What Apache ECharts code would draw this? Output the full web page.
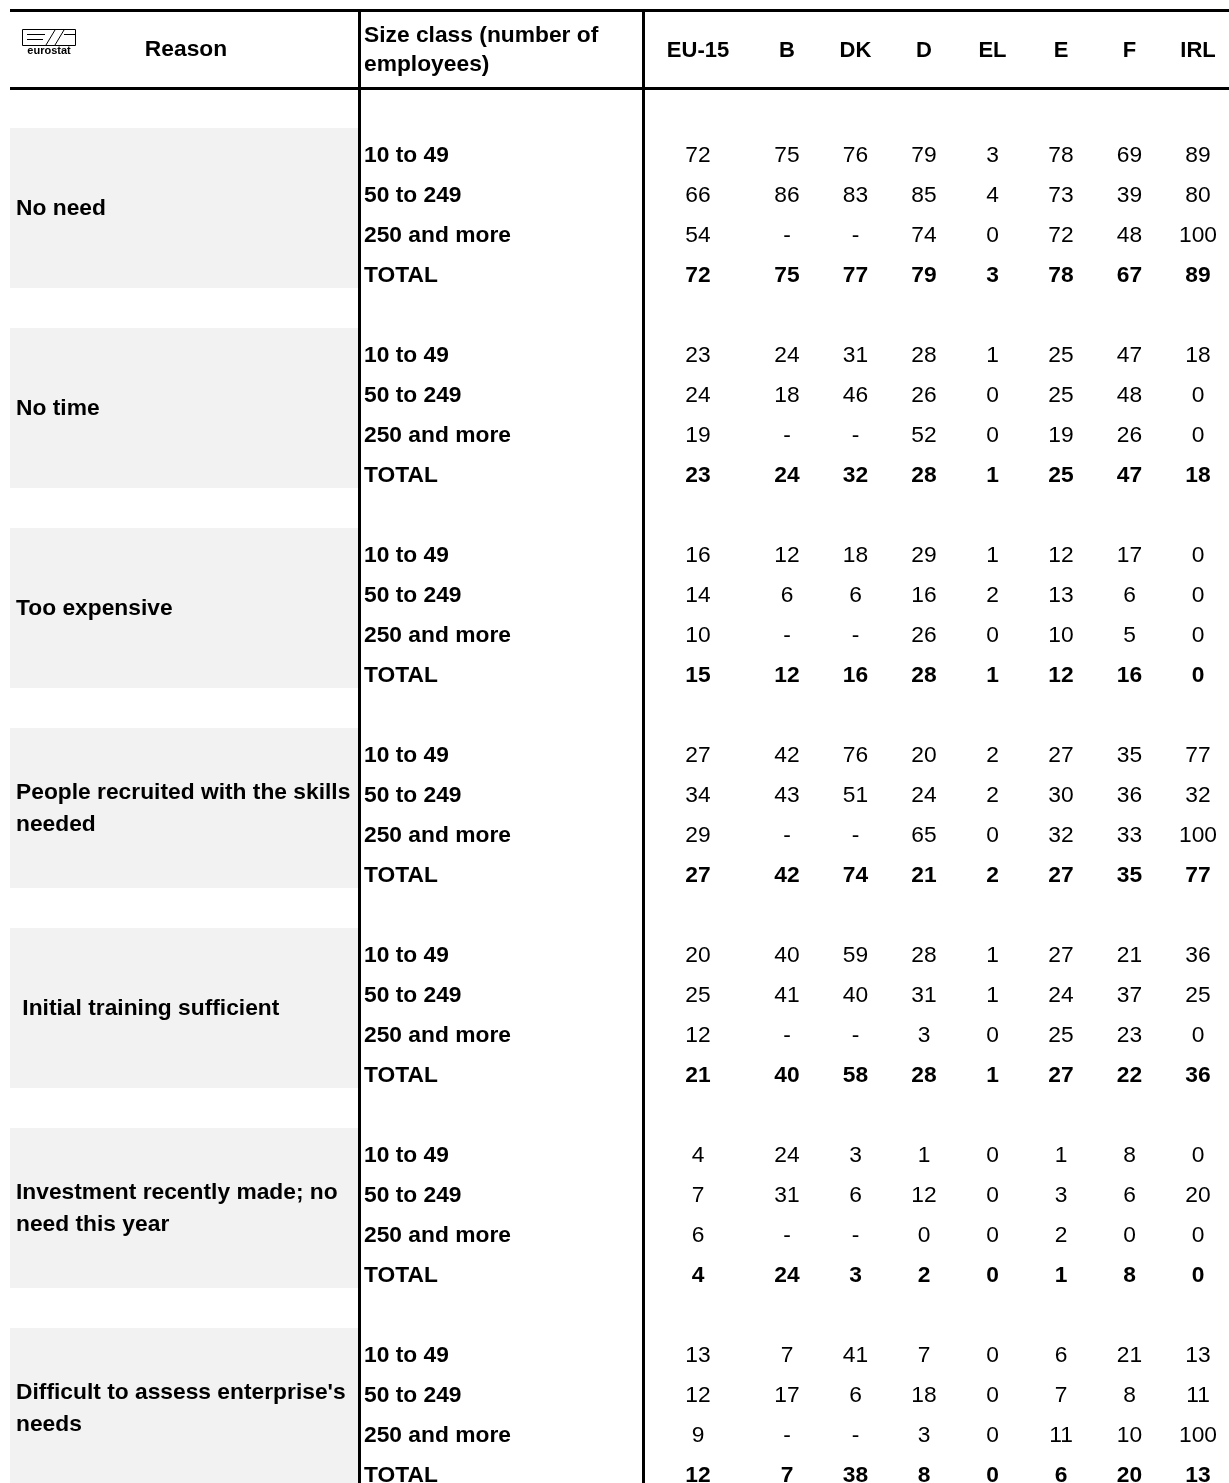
<!DOCTYPE html>
<html>
<head>
<meta charset="utf-8">
<script src="https://cdn.jsdelivr.net/npm/echarts@6/dist/echarts.min.js"></script>
<style>
html,body{margin:0;padding:0;background:#fff;}
#chart{width:1229px;height:1483px;}
</style>
</head>
<body>
<div id="chart"></div>
<script>
// ---------- DATA ----------
const countries = ['EU-15', 'B', 'DK', 'D', 'EL', 'E', 'F', 'IRL'];
const sizeClasses = ['10 to 49', '50 to 249', '250 and more', 'TOTAL'];
const reasons = [
  'No need',
  'No time',
  'Too expensive',
  'People recruited with the skills\nneeded',
  ' Initial training sufficient',
  'Investment recently made; no\nneed this year',
  "Difficult to assess enterprise's\nneeds"
];
// rows: 10 to 49, 50 to 249, 250 and more, TOTAL ; columns follow `countries`; null = '-'
const noNeed = [
  [72, 75, 76, 79, 3, 78, 69, 89],
  [66, 86, 83, 85, 4, 73, 39, 80],
  [54, null, null, 74, 0, 72, 48, 100],
  [72, 75, 77, 79, 3, 78, 67, 89]
];
const noTime = [
  [23, 24, 31, 28, 1, 25, 47, 18],
  [24, 18, 46, 26, 0, 25, 48, 0],
  [19, null, null, 52, 0, 19, 26, 0],
  [23, 24, 32, 28, 1, 25, 47, 18]
];
const tooExpensive = [
  [16, 12, 18, 29, 1, 12, 17, 0],
  [14, 6, 6, 16, 2, 13, 6, 0],
  [10, null, null, 26, 0, 10, 5, 0],
  [15, 12, 16, 28, 1, 12, 16, 0]
];
const peopleRecruited = [
  [27, 42, 76, 20, 2, 27, 35, 77],
  [34, 43, 51, 24, 2, 30, 36, 32],
  [29, null, null, 65, 0, 32, 33, 100],
  [27, 42, 74, 21, 2, 27, 35, 77]
];
const initialTraining = [
  [20, 40, 59, 28, 1, 27, 21, 36],
  [25, 41, 40, 31, 1, 24, 37, 25],
  [12, null, null, 3, 0, 25, 23, 0],
  [21, 40, 58, 28, 1, 27, 22, 36]
];
const investmentMade = [
  [4, 24, 3, 1, 0, 1, 8, 0],
  [7, 31, 6, 12, 0, 3, 6, 20],
  [6, null, null, 0, 0, 2, 0, 0],
  [4, 24, 3, 2, 0, 1, 8, 0]
];
const difficultAssess = [
  [13, 7, 41, 7, 0, 6, 21, 13],
  [12, 17, 6, 18, 0, 7, 8, 11],
  [9, null, null, 3, 0, 11, 10, 100],
  [12, 7, 38, 8, 0, 6, 20, 13]
];
const groups = [noNeed, noTime, tooExpensive, peopleRecruited, initialTraining, investmentMade, difficultAssess];

// ---------- BUILD ----------
const FONT = '"Liberation Sans", Arial, sans-serif';
const FS = 21.5;
const SX = 1.06; // horizontal stretch seen in the reference glyphs
const ROWS_PER_GROUP = sizeClasses.length + 1; // one blank spacer row + size classes
const TOTAL_ROWS = groups.length * ROWS_PER_GROUP;

const reasonItems = [], sizeItems = [], euItems = [], ctyItems = [], bands = [];
groups.forEach((g, gi) => {
  const base = gi * ROWS_PER_GROUP + 1;
  bands.push([{ yAxis: base }, { yAxis: base + sizeClasses.length }]);
  reasonItems.push({ x: 0, y: base + sizeClasses.length / 2, text: reasons[gi], bold: true });
  g.forEach((row, si) => {
    const y = base + si + 0.5;
    const bold = sizeClasses[si] === 'TOTAL';
    sizeItems.push({ x: 0, y: y, text: sizeClasses[si], bold: true });
    row.forEach((v, ci) => {
      const item = { x: ci === 0 ? 0 : ci - 1, y: y, text: v === null ? '-' : String(v), bold: bold };
      (ci === 0 ? euItems : ctyItems).push(item);
    });
  });
});

function textSeries(idx, items, align, dx, dy, lineHeight) {
  return {
    type: 'custom', coordinateSystem: 'cartesian2d', xAxisIndex: idx, yAxisIndex: idx,
    silent: true, z: 5,
    data: items.map(d => [d.x, d.y]),
    renderItem: (params, api) => {
      const d = items[params.dataIndex];
      const pt = api.coord([api.value(0), api.value(1)]);
      return {
        type: 'text', x: pt[0] + dx, y: pt[1] + dy, scaleX: SX, scaleY: 1,
        style: {
          text: d.text, x: 0, y: 0, fill: '#000',
          font: (d.bold ? 'bold ' : '') + FS + 'px ' + FONT,
          align: align, verticalAlign: 'middle', lineHeight: lineHeight || FS * 1.2
        }
      };
    }
  };
}

const hiddenY = i => ({ gridIndex: i, type: 'value', min: 0, max: TOTAL_ROWS, inverse: true, show: false });
const headerAxisLabel = {
  show: true, interval: 0, margin: 37, verticalAlign: 'middle',
  fontFamily: FONT, fontWeight: 'bold', fontSize: 22, color: '#000'
};

const chart = echarts.init(document.getElementById('chart'), null, { renderer: 'canvas' });
const option = {
  animation: false,
  backgroundColor: '#ffffff',
  textStyle: { fontFamily: FONT },
  grid: [
    { left: 10, top: 88, width: 348, height: 1400, outerBoundsMode: 'none' },
    { left: 361, top: 88, width: 282, height: 1400, outerBoundsMode: 'none' },
    { left: 658, top: 88, width: 80, height: 1400, outerBoundsMode: 'none' },
    { left: 787, top: 88, width: 411, height: 1400, outerBoundsMode: 'none' }
  ],
  xAxis: [
    { gridIndex: 0, type: 'value', min: 0, max: 1, show: false },
    { gridIndex: 1, type: 'value', min: 0, max: 1, show: false },
    {
      gridIndex: 2, type: 'category', data: countries.slice(0, 1), boundaryGap: true, position: 'top',
      axisLine: { show: false }, axisTick: { show: false }, splitLine: { show: false }, axisLabel: headerAxisLabel
    },
    {
      gridIndex: 3, type: 'category', data: countries.slice(1), boundaryGap: false, position: 'top',
      axisLine: { show: false }, axisTick: { show: false }, splitLine: { show: false }, axisLabel: headerAxisLabel
    }
  ],
  yAxis: [hiddenY(0), hiddenY(1), hiddenY(2), hiddenY(3)],
  series: [
    {
      type: 'scatter', name: 'bands', xAxisIndex: 0, yAxisIndex: 0, symbolSize: 0, silent: true,
      itemStyle: { color: 'transparent' }, data: reasonItems.map(d => [d.x, d.y]),
      markArea: { silent: true, itemStyle: { color: '#f2f2f2' }, data: bands }, z: 1
    },
    textSeries(0, reasonItems, 'left', 6, 1, 32),
    textSeries(1, sizeItems, 'left', 3, 8),
    textSeries(2, euItems, 'center', 0, 8),
    textSeries(3, ctyItems, 'center', 0, 8)
  ],
  graphic: [
    { type: 'line', z: 100, shape: { x1: 10, y1: 10.5, x2: 1229, y2: 10.5 }, style: { stroke: '#000', lineWidth: 3 } },
    { type: 'line', z: 100, shape: { x1: 10, y1: 88.5, x2: 1229, y2: 88.5 }, style: { stroke: '#000', lineWidth: 3 } },
    { type: 'line', z: 100, shape: { x1: 359.5, y1: 9, x2: 359.5, y2: 1483 }, style: { stroke: '#000', lineWidth: 3 } },
    { type: 'line', z: 100, shape: { x1: 643.5, y1: 9, x2: 643.5, y2: 1483 }, style: { stroke: '#000', lineWidth: 3 } },
    {
      type: 'text', z: 100, x: 186, y: 50, scaleX: SX, style: {
        text: 'Reason', x: 0, y: 0, textAlign: 'center', textVerticalAlign: 'middle',
        font: 'bold ' + FS + 'px ' + FONT, fill: '#000'
      }
    },
    {
      type: 'text', z: 100, x: 364, y: 51, scaleX: SX, style: {
        text: 'Size class (number of\nemployees)', x: 0, y: 0, textAlign: 'left', textVerticalAlign: 'middle',
        font: 'bold ' + FS + 'px ' + FONT, fill: '#000', lineHeight: 29
      }
    },
    // eurostat logo
    {
      type: 'group', z: 100, children: [
        { type: 'rect', shape: { x: 22.5, y: 29.5, width: 53, height: 16 }, style: { fill: 'none', stroke: '#000', lineWidth: 1 } },
        { type: 'line', shape: { x1: 27, y1: 34.5, x2: 45, y2: 34.5 }, style: { stroke: '#000', lineWidth: 1 } },
        { type: 'line', shape: { x1: 27, y1: 39.5, x2: 43, y2: 39.5 }, style: { stroke: '#000', lineWidth: 1 } },
        { type: 'line', shape: { x1: 46, y1: 45, x2: 55, y2: 30 }, style: { stroke: '#000', lineWidth: 1 } },
        { type: 'line', shape: { x1: 55, y1: 45, x2: 64, y2: 30 }, style: { stroke: '#000', lineWidth: 1 } },
        { type: 'line', shape: { x1: 64, y1: 34.5, x2: 75, y2: 34.5 }, style: { stroke: '#000', lineWidth: 1 } },
        {
          type: 'text', style: {
            text: 'eurostat', x: 49, y: 51, textAlign: 'center', textVerticalAlign: 'middle',
            font: 'bold 11px ' + FONT, fill: '#000'
          }
        }
      ]
    }
  ]
};
chart.setOption(option);
</script>
</body>
</html>
